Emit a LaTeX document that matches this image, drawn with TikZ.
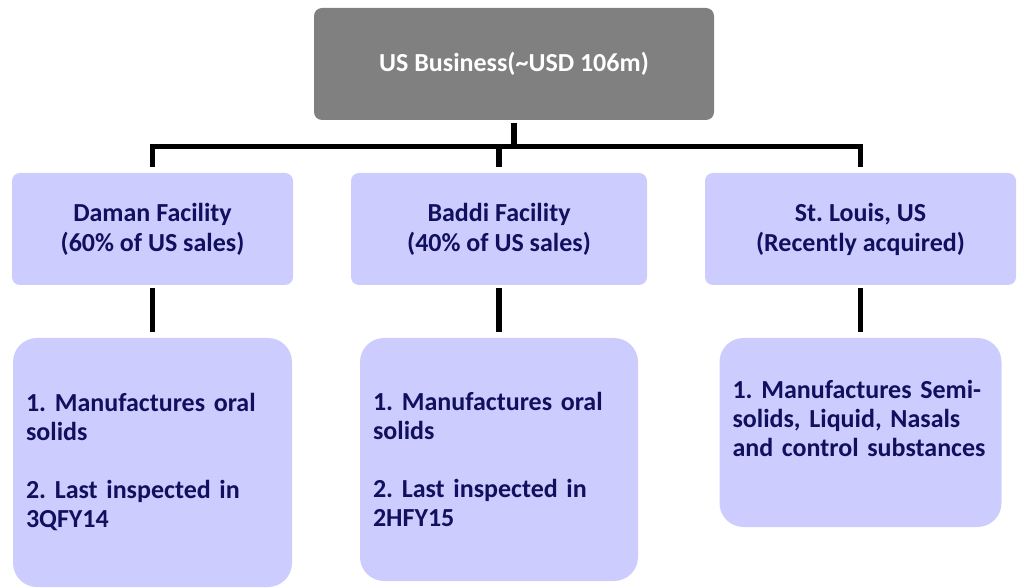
\documentclass[tikz,border=0pt]{standalone}
\usepackage{fontspec}
\setmainfont{Carlito}
\frenchspacing
\definecolor{boxblue}{HTML}{CCCCFF}
\definecolor{navytext}{HTML}{10105F}
\definecolor{topgray}{HTML}{808080}

\begin{document}
\begin{tikzpicture}[x=1pt, y=-1pt,
  topbox/.style={fill=topgray, rounded corners=8pt, text=white,
    font=\fontsize{26}{29}\selectfont\bfseries, inner sep=0pt,
    minimum width=400pt, minimum height=112pt},
  sitebox/.style={fill=boxblue, rounded corners=8pt, text=navytext,
    font=\fontsize{26}{30}\selectfont\bfseries, align=center, inner sep=0pt,
    minimum height=112pt},
  notebox/.style={fill=boxblue, rounded corners=24pt, text=navytext,
    font=\fontsize{26}{29}\selectfont\bfseries, align=left,
    inner xsep=13pt, inner ysep=0pt},
  link/.style={line width=5.5pt, line join=miter}]
  \useasboundingbox (0,0) rectangle (1021,588);

  % 顶层
  \node[topbox] (us) at (514,64) {US Business(\textasciitilde USD 106m)};

  % 三个工厂
  \node[sitebox, minimum width=281pt] (daman) at (152.5,229) {Daman Facility\\(60\% of US sales)};
  \node[sitebox, minimum width=296pt] (baddi) at (499,229) {Baddi Facility\\(40\% of US sales)};
  \node[sitebox, minimum width=311pt] (stl) at (860.5,229) {St. Louis, US\\(Recently acquired)};

  % 说明框
  \node[notebox, text width=253pt, minimum height=249pt] (damannote) at (152.5,462.5)
    {1. Manufactures oral\\solids\\[29pt]2. Last inspected in\\3QFY14};
  \node[notebox, text width=252pt, minimum height=243pt] (baddinote) at (499,459.5)
    {1. Manufactures oral\\solids\\[29pt]2. Last inspected in\\2HFY15};
  \node[notebox, text width=256pt, minimum height=189pt] (stlnote) at (860.5,432.5)
    {1. Manufactures Semi-\\solids, Liquid, Nasals\\and control substances\\\mbox{}};

  % 连线
  \coordinate (bus) at (514,146.5);
  \draw[link, shorten <=3pt] (us.south) -- (us.south |- bus);
  \draw[link, shorten <=6pt, shorten >=6pt] (daman.north) |- (stl.north |- bus) -- (stl.north);
  \draw[link, shorten >=6pt] (baddi.north |- bus) -- (baddi.north);

  \draw[link, shorten <=3pt, shorten >=6pt] (daman.south) -- (damannote.north);
  \draw[link, shorten <=3pt, shorten >=6pt] (baddi.south) -- (baddinote.north);
  \draw[link, shorten <=3pt, shorten >=6pt] (stl.south) -- (stlnote.north);
\end{tikzpicture}
\end{document}
